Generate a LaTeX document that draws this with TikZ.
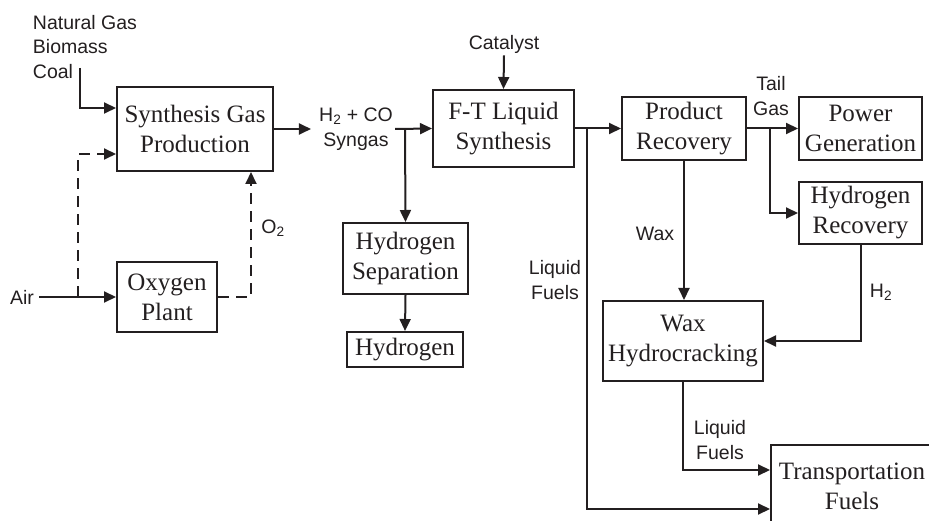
\documentclass[tikz,border=0pt]{standalone}
\usepackage{fontspec}
\setmainfont{Liberation Serif}
\newfontfamily\lblfont{Liberation Sans}
\usetikzlibrary{arrows.meta}
\definecolor{ink}{HTML}{231F20}

\begin{document}
\begin{tikzpicture}[x=1pt,y=-1pt,
    box/.style={draw=ink,line width=2pt,text=ink,align=center,inner sep=0pt,
      font=\fontsize{25}{30}\selectfont},
    lbl/.style={text=ink,align=center,inner sep=2pt,
      font=\lblfont\fontsize{19.5}{24.5}\selectfont},
    flow/.style={draw=ink,line width=2pt,-{Triangle[length=12pt,width=11pt]}},
    dflow/.style={flow,dash pattern=on 11pt off 7pt},
    pipe/.style={draw=ink,line width=2pt}]
  \useasboundingbox (0,0) rectangle (929,521);
  \clip (0,0) rectangle (929,521);
  % boxes
  \node[box,minimum width=156pt,minimum height=84pt] (syn) at (195,129) {Synthesis Gas\\Production};
  \node[box,minimum width=100pt,minimum height=70pt] (oxy) at (167,297) {Oxygen\\Plant};
  \node[box,minimum width=141pt,minimum height=77pt] (ft) at (503.5,128.5) {F-T Liquid\\Synthesis};
  \node[box,minimum width=125pt,minimum height=71pt] (hsep) at (405.5,258.5) {Hydrogen\\Separation};
  \node[box,minimum width=116pt,minimum height=35pt] (hyd) at (405,349.5) {Hydrogen};
  \node[box,minimum width=124pt,minimum height=63pt] (pr) at (684,128.5) {Product\\Recovery};
  \node[box,minimum width=123pt,minimum height=63pt] (pg) at (860.5,128.5) {Power\\Generation};
  \node[box,minimum width=123pt,minimum height=62pt] (hr) at (860.5,213) {Hydrogen\\Recovery};
  \node[box,minimum width=160pt,minimum height=80pt] (wh) at (683,341) {Wax\\Hydrocracking};
  \node[box,anchor=north west,minimum width=162pt,minimum height=82pt] (tf) at (770,444) {Transportation\\Fuels};
  % stream labels
  \node[lbl,align=left] (feed) at (85,47) {Natural Gas\\Biomass\\Coal};
  \node[lbl] (air) at (22,297) {Air};
  \node[lbl] (o2) at (273,228) {O\textsubscript{2}};
  \node[lbl] (sg) at (356,129) {H\textsubscript{2} + CO\\Syngas};
  \node[lbl] (cat) at (504,44) {Catalyst};
  \node[lbl] (lf1) at (555,280) {Liquid\\Fuels};
  \node[lbl] (tg) at (771,96) {Tail\\Gas};
  \node[lbl] (wax) at (655,234) {Wax};
  \node[lbl] (h2) at (881,292) {H\textsubscript{2}};
  \node[lbl] (lf2) at (720,440) {Liquid\\Fuels};
  % split points
  \coordinate (feedin) at (80,68);
  \coordinate (airsplit) at (78,297);
  \coordinate (o2turn) at (251,297);
  \coordinate (h2split) at (405,129);
  \coordinate (lfsplit) at (587,129);
  \coordinate (tgsplit) at (770,129);
  % feed, air and oxygen
  \draw[flow] (feedin) |- ([yshift=21pt]syn.west);
  \draw[flow] ([xshift=3pt]air.east) -- (oxy.west);
  \draw[dflow] (airsplit) |- ([yshift=-25pt]syn.west);
  \draw[dflow] (oxy.east) -- (o2turn) -- (o2turn |- syn.south);
  % syngas
  \draw[flow] (syn.east) -- ([xshift=-6pt]sg.west);
  \draw[flow] (sg.east) -- (ft.west);
  \draw[flow] (h2split) -- (hsep.north);
  \draw[flow] (hsep.south) -- (hyd.north);
  \draw[flow] (cat.south) -- (ft.north);
  % products
  \draw[flow] (ft.east) -- (pr.west);
  \draw[flow] (lfsplit) |- ([yshift=-23pt]tf.west);
  \draw[flow] (pr.east) -- (pg.west);
  \draw[flow] (tgsplit) |- (hr.west);
  \draw[flow] (pr.south) -- (pr.south |- wh.north);
  \draw[flow] (hr.south) |- (wh.east);
  \draw[flow] (wh.south) |- ([yshift=16pt]tf.west);
\end{tikzpicture}
\end{document}
